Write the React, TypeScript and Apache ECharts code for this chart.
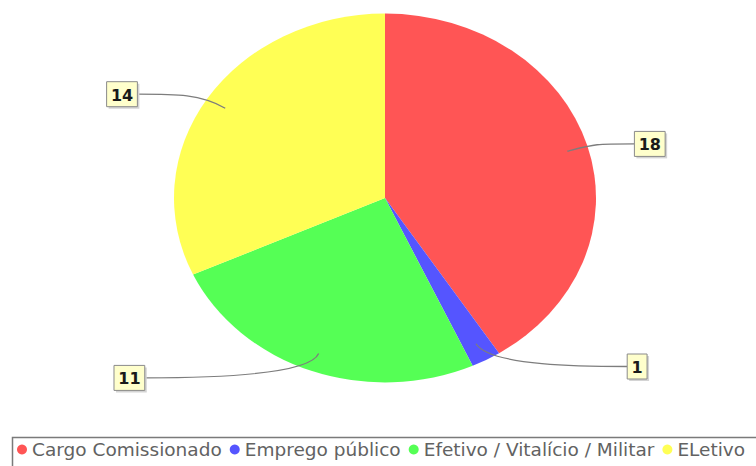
import React, { useEffect, useRef } from "react";
import * as echarts from "echarts";

const categories = ["Cargo Comissionado", "Emprego público", "Efetivo / Vitalício / Militar", "ELetivo"];
const values = [18, 1, 11, 14];
const colors = ["#FF5555", "#5555FF", "#55FF55", "#FFFF55"];

const CX = 385;
const CY = 198;
const RX = 211;
const RY = 184.5;

export default function App() {
  const ref = useRef<HTMLDivElement>(null);
  useEffect(() => {
    if (!ref.current) return;
    const chart = echarts.init(ref.current, undefined, { renderer: "svg" });
    const total = values.reduce((a, b) => a + b, 0);
    const k = RY / RX;

    const makeRender = (idx: number) => (params: any, api: any) => {
      const v = api.value(0);
      let before = 0;
      for (let j = 0; j < idx; j++) before += values[j];
      const a0 = -Math.PI / 2 + (before / total) * Math.PI * 2;
      const a1 = a0 + (v / total) * Math.PI * 2;
      const mid = (a0 + a1) / 2;
      const c = Math.cos(mid);
      const s = Math.sin(mid);
      const right = c >= 0;
      const ax = CX + 0.9 * RX * c;
      const ay = CY + 0.9 * RY * s;
      const labelY = CY + 192 * s;
      const txt = String(v);
      const fs = 17;
      const w = txt.length * 0.64 * fs + 9;
      const h = 25;
      const dist = 235 + 15 * Math.abs(c);
      const bx = right ? CX + dist : CX - dist - w;
      const by = labelY - h / 2;
      const ex = right ? bx : bx + w;
      const cp1x = CX + 1.04 * RX * c;
      const cp1y = CY + 1.04 * RY * s;
      const cp2x = right ? ex - 40 : ex + 40;
      return {
        type: "group",
        children: [
          {
            type: "sector",
            x: CX,
            y: CY,
            scaleY: k,
            shape: { cx: 0, cy: 0, r: RX, r0: 0, startAngle: a0, endAngle: a1, clockwise: true },
            style: { fill: colors[idx] },
          },
          {
            type: "bezierCurve",
            shape: { x1: ax, y1: ay, cpx1: cp1x, cpy1: cp1y, cpx2: cp2x, cpy2: labelY, x2: ex, y2: labelY },
            style: { stroke: "#7d7d7d", lineWidth: 1.3, fill: "none" },
          },
          {
            type: "rect",
            shape: { x: bx + 2, y: by + 2, width: w, height: h },
            style: { fill: "#d4d4d4" },
          },
          {
            type: "rect",
            shape: { x: bx, y: by, width: w, height: h },
            style: { fill: "#FFFFCC", stroke: "#8a8a8a", lineWidth: 1 },
          },
          {
            type: "text",
            x: bx + w / 2,
            y: by + h / 2 + 1,
            style: {
              text: txt,
              fill: "#1a1a1a",
              font: `bold ${fs - 1}px "DejaVu Sans"`,
              align: "center",
              verticalAlign: "middle",
            },
          },
        ],
      };
    };

    chart.setOption({
      animation: false,
      backgroundColor: "#ffffff",
      legend: {
        data: categories,
        left: 17,
        top: 440,
        padding: 0,
        itemGap: 8,
        itemWidth: 10,
        itemHeight: 10,
        icon: "circle",
        textStyle: { fontSize: 18.5, color: "#626262", fontFamily: "DejaVu Sans" },
      },
      graphic: [
        {
          type: "rect",
          shape: { x: 12.5, y: 437.5, width: 800, height: 60 },
          style: { fill: "none", stroke: "#7a7a7a", lineWidth: 1.5 },
        },
      ],
      series: categories.map((name, i) => ({
        type: "custom",
        name,
        coordinateSystem: "none",
        itemStyle: { color: colors[i] },
        data: [[values[i]]],
        renderItem: makeRender(i),
      })),
    });
    return () => chart.dispose();
  }, []);
  return (
    <div
      ref={ref}
      style={{ position: "absolute", left: 0, top: 0, width: 756, height: 466, overflow: "hidden" }}
    />
  );
}
